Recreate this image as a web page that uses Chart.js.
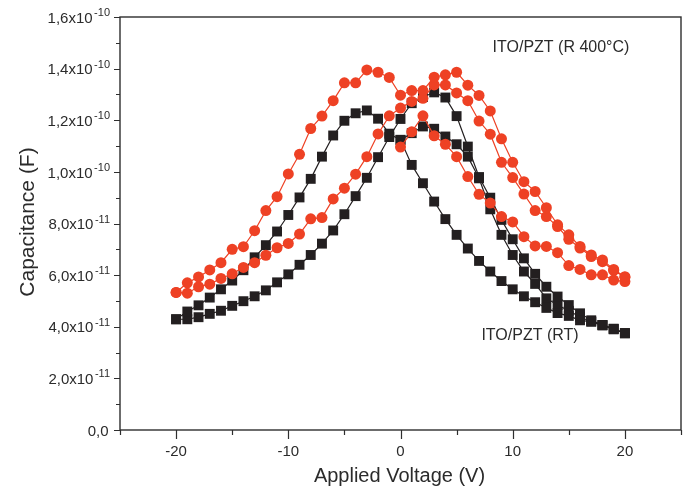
<!DOCTYPE html>
<html>
<head>
<meta charset="utf-8">
<title>C-V curves ITO/PZT</title>
<script src="https://cdn.jsdelivr.net/npm/chart.js@4.4.0/dist/chart.umd.min.js"></script>
<style>
  html, body { margin: 0; padding: 0; background: #fff; }
  #wrap { width: 689px; height: 490px; }
</style>
</head>
<body>
<div id="wrap"><canvas id="cvChart" width="689" height="490"></canvas></div>
<script>
(function () {
  // ─── Data (capacitance in units of 1e-11 F) ───────────
  var voltage = [-20, -19, -18, -17, -16, -15, -14, -13, -12, -11, -10, -9, -8, -7, -6, -5, -4, -3, -2, -1,
                 0, 1, 2, 3, 4, 5, 6, 7, 8, 9, 10, 11, 12, 13, 14, 15, 16, 17, 18, 19, 20];
  var voltageVirgin = [0, 1, 2, 3, 4, 5, 6, 7, 8, 9, 10, 11, 12, 13, 14, 15, 16, 17, 18, 19, 20];

  // ITO/PZT (R 400°C)
  var redSweepA = [5.33, 5.70, 5.93, 6.20, 6.48, 7.00, 7.10, 7.72, 8.50, 9.04, 9.92, 10.68, 11.68, 12.16, 12.76, 13.45, 13.45, 13.95, 13.86, 13.66,
                   12.97, 13.15, 13.15, 13.67, 13.76, 13.86, 13.36, 12.96, 12.36, 11.28, 10.37, 9.62, 9.24, 8.61, 7.95, 7.56, 7.11, 6.78, 6.59, 6.22, 5.94];
  var redSweepB = [5.33, 5.30, 5.55, 5.65, 5.87, 6.05, 6.30, 6.48, 6.77, 7.06, 7.23, 7.59, 8.18, 8.23, 8.95, 9.37, 9.91, 10.59, 11.47, 12.17,
                   12.47, 12.73, 12.85, 13.37, 13.37, 13.06, 12.76, 11.97, 11.46, 10.37, 9.78, 9.14, 8.50, 8.27, 7.88, 7.39, 7.05, 6.72, 6.52, 6.18, 5.92];
  var redVirgin = [10.96, 11.55, 12.17, 11.40, 11.07, 10.59, 9.82, 9.13, 8.79, 8.27, 8.06, 7.49, 7.13, 7.11, 6.87, 6.37, 6.22, 6.01, 6.01, 5.81, 5.75];

  // ITO/PZT (RT)
  var blackSweepA = [4.29, 4.59, 4.83, 5.13, 5.45, 5.79, 6.19, 6.69, 7.16, 7.69, 8.33, 9.01, 9.73, 10.59, 11.41, 11.98, 12.27, 12.38, 12.06, 11.48,
                     11.24, 10.27, 9.56, 8.85, 8.17, 7.56, 7.03, 6.55, 6.14, 5.77, 5.45, 5.18, 4.95, 4.73, 4.53, 4.42, 4.25, 4.20, 4.05, 3.90, 3.75];
  var blackSweepB = [4.29, 4.29, 4.37, 4.50, 4.62, 4.81, 4.99, 5.18, 5.41, 5.72, 6.03, 6.40, 6.78, 7.22, 7.73, 8.36, 9.06, 9.77, 10.57, 11.35,
                     12.05, 12.66, 12.90, 13.08, 12.88, 12.16, 10.98, 9.80, 9.00, 8.14, 7.39, 6.65, 6.05, 5.55, 5.17, 4.84, 4.52, 4.25, 4.07, 3.92, 3.75];
  var blackVirgin = [11.24, 11.50, 11.76, 11.67, 11.37, 11.07, 10.59, 9.75, 8.55, 7.56, 6.78, 6.14, 5.66, 5.10, 4.84, 4.62, 4.38, 4.20, 4.07, 3.92, 3.75];

  // Axis ticks
  var xTicks = [-20, -10, 0, 10, 20];
  var xMinorTicks = [-25, -15, -5, 5, 15, 25];
  var yTickValues = [0, 2e-11, 4e-11, 6e-11, 8e-11, 1e-10, 1.2e-10, 1.4e-10, 1.6e-10];
  var yTickMantissa = ['0,0', '2,0', '4,0', '6,0', '8,0', '1,0', '1,2', '1,4', '1,6'];
  var yTickExp = ['', '-11', '-11', '-11', '-11', '-10', '-10', '-10', '-10'];
  var yMinorTicks = [1e-11, 3e-11, 5e-11, 7e-11, 9e-11, 1.1e-10, 1.3e-10, 1.5e-10];

  // ─── Style ─────────────────────────────────────────────
  var RED = '#ee4124';
  var BLACK = '#231f20';
  var AXIS = '#2e2e2e';
  var TEXT = '#2b2b2b';
  var FONT = '"Liberation Sans", Arial, Helvetica, sans-serif';

  function toPoints(xs, vals) {
    return xs.map(function (v, i) { return { x: v, y: vals[i] * 1e-11 }; });
  }

  function redSet(xs, vals) {
    return {
      data: toPoints(xs, vals),
      borderColor: RED, backgroundColor: RED, borderWidth: 1.2,
      pointStyle: 'circle', pointRadius: 5.5, pointBorderWidth: 0,
      tension: 0
    };
  }
  function blackSet(xs, vals) {
    return {
      data: toPoints(xs, vals),
      borderColor: BLACK, backgroundColor: BLACK, borderWidth: 1.2,
      pointStyle: 'rect', pointRadius: 7, pointBorderWidth: 0,
      tension: 0
    };
  }

  // ─── Decorations: frame, ticks, labels, titles ─────────
  var decor = {
    id: 'decor',
    afterDraw: function (chart) {
      var ctx = chart.ctx, a = chart.chartArea;
      var xs = chart.scales.x, ys = chart.scales.y;
      ctx.save();
      ctx.strokeStyle = AXIS;
      ctx.lineWidth = 1.4;
      ctx.strokeRect(a.left, a.top, a.right - a.left, a.bottom - a.top);

      ctx.lineWidth = 1.2;
      ctx.beginPath();
      xMinorTicks.forEach(function (v) {
        var px = Math.round(xs.getPixelForValue(v)) + 0.5;
        ctx.moveTo(px, a.bottom); ctx.lineTo(px, a.bottom + 5);
      });
      xTicks.forEach(function (v) {
        var px = Math.round(xs.getPixelForValue(v)) + 0.5;
        ctx.moveTo(px, a.bottom); ctx.lineTo(px, a.bottom + 9);
      });
      yMinorTicks.forEach(function (v) {
        var py = Math.round(ys.getPixelForValue(v)) + 0.5;
        ctx.moveTo(a.left, py); ctx.lineTo(a.left - 4, py);
      });
      yTickValues.forEach(function (v) {
        var py = Math.round(ys.getPixelForValue(v)) + 0.5;
        ctx.moveTo(a.left, py); ctx.lineTo(a.left - 6, py);
      });
      ctx.stroke();

      ctx.fillStyle = TEXT;
      ctx.font = '15px ' + FONT;
      ctx.textAlign = 'center';
      ctx.textBaseline = 'middle';
      xTicks.forEach(function (v) {
        ctx.fillText(String(v), xs.getPixelForValue(v), a.bottom + 22);
      });

      ctx.textAlign = 'right';
      var labelRight = a.left - 10;
      yTickValues.forEach(function (v, i) {
        var py = ys.getPixelForValue(v);
        var exp = yTickExp[i];
        var w = 0;
        if (exp) {
          ctx.font = '11px ' + FONT;
          w = ctx.measureText(exp).width;
          ctx.fillText(exp, labelRight, py - 4);
        }
        ctx.font = '15px ' + FONT;
        ctx.fillText(yTickMantissa[i] + (exp ? 'x10' : ''), labelRight - w - 1.5, py + 1.5);
      });

      // axis titles
      ctx.textAlign = 'center';
      ctx.font = '20px ' + FONT;
      ctx.fillText('Applied Voltage (V)', (a.left + a.right) / 2 - 1, 476);
      ctx.translate(28, 222);
      ctx.rotate(-Math.PI / 2);
      ctx.font = '21px ' + FONT;
      ctx.fillText('Capacitance (F)', 0, 0);
      ctx.restore();

      // annotations
      ctx.save();
      ctx.fillStyle = TEXT;
      ctx.font = '16px ' + FONT;
      ctx.textAlign = 'center';
      ctx.textBaseline = 'middle';
      ctx.fillText('ITO/PZT (R 400°C)', 561, 48);
      ctx.fillText('ITO/PZT (RT)', 530, 336);
      ctx.restore();
    }
  };

  // ─── Chart ────────────────────────────────────────────
  new Chart(document.getElementById('cvChart'), {
    type: 'line',
    data: {
      datasets: [
        redSet(voltage, redSweepA),
        redSet(voltage, redSweepB),
        redSet(voltageVirgin, redVirgin),
        blackSet(voltage, blackSweepA),
        blackSet(voltage, blackSweepB),
        blackSet(voltageVirgin, blackVirgin)
      ]
    },
    options: {
      responsive: false,
      animation: false,
      layout: { padding: { left: 0, right: 8, top: 17, bottom: 0 } },
      plugins: { legend: { display: false }, tooltip: { enabled: false } },
      scales: {
        x: {
          type: 'linear', min: -25, max: 25,
          grid: { display: false },
          border: { display: false },
          ticks: { display: false },
          afterFit: function (s) { s.height = 60; }
        },
        y: {
          type: 'linear', min: 0, max: 1.6e-10,
          grid: { display: false },
          border: { display: false },
          ticks: { display: false },
          afterFit: function (s) { s.width = 120; }
        }
      }
    },
    plugins: [decor]
  });
})();
</script>
</body>
</html>
